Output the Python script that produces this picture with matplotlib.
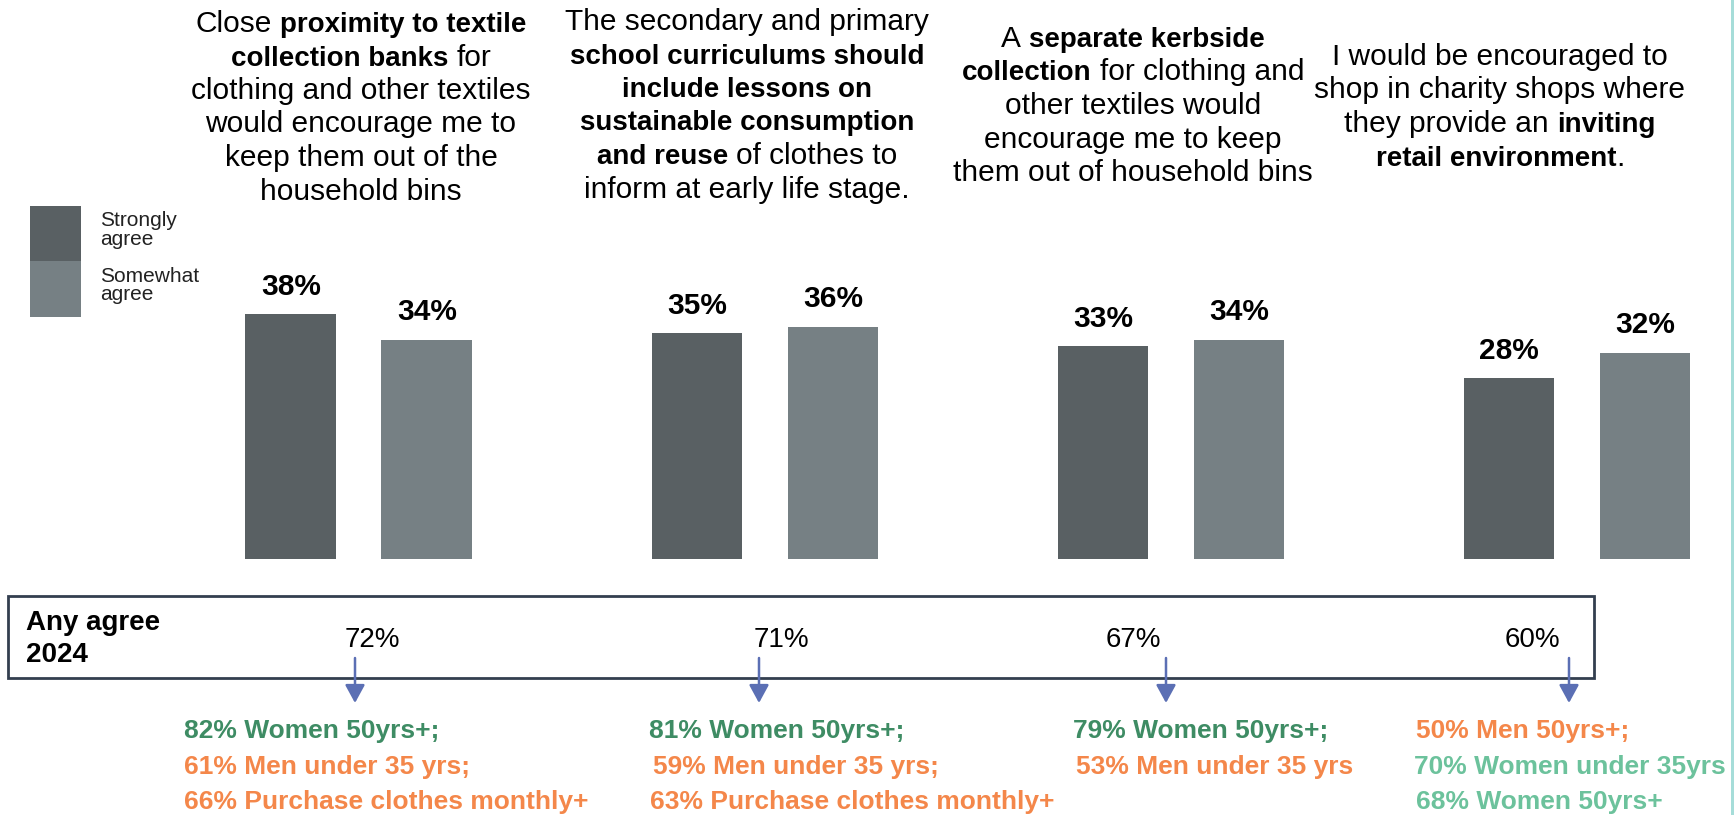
import matplotlib
matplotlib.use("Agg")
import matplotlib.pyplot as plt
from matplotlib.patches import Rectangle

# ---- data -------------------------------------------------------------
statements = ["Textile collection banks", "School curriculum lessons",
              "Separate kerbside collection", "Inviting charity shops"]
strongly_agree = [38, 35, 33, 28]
somewhat_agree = [34, 36, 34, 32]
any_agree_2024 = [72, 71, 67, 60]
series_names = [["Strongly", "agree"], ["Somewhat", "agree"]]

# statement headings: each line is a list of (text, bold)
headings = [
    [[("Close ", False), ("proximity to textile", True)],
     [("collection banks", True), (" for", False)],
     [("clothing and other textiles", False)],
     [("would encourage me to", False)],
     [("keep them out of the", False)],
     [("household bins", False)]],
    [[("The secondary and primary", False)],
     [("school curriculums should", True)],
     [("include lessons on", True)],
     [("sustainable consumption", True)],
     [("and reuse", True), (" of clothes to", False)],
     [("inform at early life stage.", False)]],
    [[("A ", False), ("separate kerbside", True)],
     [("collection", True), (" for clothing and", False)],
     [("other textiles would", False)],
     [("encourage me to keep", False)],
     [("them out of household bins", False)]],
    [[("I would be encouraged to", False)],
     [("shop in charity shops where", False)],
     [("they provide an ", False), ("inviting", True)],
     [("retail environment", True), (".", False)]],
]

# sub-group highlights under each statement
note_values = [[82, 61, 66], [81, 59, 63], [79, 53], [50, 70, 68]]
note_labels = [["Women 50yrs+;", "Men under 35 yrs;", "Purchase clothes monthly+"],
               ["Women 50yrs+;", "Men under 35 yrs;", "Purchase clothes monthly+"],
               ["Women 50yrs+;", "Men under 35 yrs"],
               ["Men 50yrs+;", "Women under 35yrs", "Women 50yrs+"]]
note_kinds = [["high", "low", "low"], ["high", "low", "low"],
              ["high", "low"], ["low", "mid", "mid"]]

# ---- styling -----------------------------------------------------------
W, H, DPI = 1734, 815, 100
FONT = ["Liberation Sans", "DejaVu Sans"]
DARK = "#596063"
LIGHT = "#768084"
ARROW = "#5b6fb4"
BOX = "#333f4f"
NOTE_COLORS = {"high": "#3e8c64", "low": "#f4874a", "mid": "#6cc29c"}
REG_SIZE, BOLD_SIZE = 21.5, 20

fig = plt.figure(figsize=(W / DPI, H / DPI), dpi=DPI)
fig.patch.set_facecolor("white")

# pixel-space overlay for annotations
ov = fig.add_axes([0, 0, 1, 1])
ov.set_xlim(0, W)
ov.set_ylim(H, 0)
ov.axis("off")

# ---- bars --------------------------------------------------------------
step = 406.1
c0 = 358.75
x_lo, x_hi = -0.5, 3.3
y_top = 40
px_per_pct = 6.43
base_px = 558.5
ax = fig.add_axes([(c0 + x_lo * step) / W, (H - base_px) / H,
                   (x_hi - x_lo) * step / W, y_top * px_per_pct / H])
ax.set_xlim(x_lo, x_hi)
ax.set_ylim(0, y_top)
ax.patch.set_alpha(0)
ax.axis("off")

idx = list(range(len(statements)))
bw = 0.223
off = 0.1675
b1 = ax.bar([i - off for i in idx], strongly_agree, width=bw, color=DARK)
b2 = ax.bar([i + off for i in idx], somewhat_agree, width=bw, color=LIGHT)
for cont, vals, pad in ((b1, strongly_agree, 9.5), (b2, somewhat_agree, 10)):
    ax.bar_label(cont, labels=[f"{v}%" for v in vals], padding=pad,
                 fontsize=21.5, fontweight="bold", family=FONT, color="black")

# ---- legend ------------------------------------------------------------
ov.add_patch(Rectangle((30, 206), 51, 55, color=DARK, lw=0))
ov.add_patch(Rectangle((30, 261), 51, 56, color=LIGHT, lw=0))
for (l1, l2), yc in zip(series_names, (221, 276)):
    ov.text(100, yc, l1, fontsize=15, family=FONT, color="#222222", va="center")
    ov.text(100, yc + 18.5, l2, fontsize=15, family=FONT, color="#222222", va="center")

# ---- headings with mixed weights ----------------------------------------
fig.canvas.draw()
renderer = fig.canvas.get_renderer()


def measure(s, **kw):
    t = ov.text(0, 0, s, **kw)
    w = t.get_window_extent(renderer).width
    t.remove()
    return w


def rich_line(cx, baseline, parts):
    pieces = []
    for text, bold in parts:
        kw = dict(fontsize=BOLD_SIZE if bold else REG_SIZE,
                  fontweight="bold" if bold else "normal", family=FONT)
        space = measure("x x", **kw) - measure("xx", **kw)
        core = text.strip()
        lead = (len(text) - len(text.lstrip())) * space
        trail = (len(text) - len(text.rstrip())) * space
        pieces.append((core, kw, lead, measure(core, **kw), trail))
    total = sum(p[2] + p[3] + p[4] for p in pieces)
    x = cx - total / 2
    for core, kw, lead, w, trail in pieces:
        x += lead
        ov.text(x, baseline, core, ha="left", va="baseline", color="black", **kw)
        x += w + trail


heading_cx = [361, 747, 1133, 1500]
heading_first = [22, 20, 37, 55]
line_gap = 33.5
for cx, y0, lines in zip(heading_cx, heading_first, headings):
    for k, parts in enumerate(lines):
        rich_line(cx, y0 + k * line_gap + 10, parts)

# ---- "Any agree" box ----------------------------------------------------
ov.add_patch(Rectangle((8, 596), 1586, 82, fill=False, ec=BOX, lw=2.0))
ov.text(26, 623, "Any agree", fontsize=20, fontweight="bold", family=FONT,
        va="center", ha="left", color="black")
ov.text(26, 655, "2024", fontsize=20, fontweight="bold", family=FONT,
        va="center", ha="left", color="black")

value_cx = [372, 781, 1133, 1532]
for cx, v in zip(value_cx, any_agree_2024):
    ov.text(cx, 640, f"{v}%", fontsize=20, family=FONT, ha="center",
            va="center", color="black")

arrow_x = [355, 759, 1166, 1569]
for x in arrow_x:
    ov.annotate("", xy=(x, 703), xytext=(x, 658),
                arrowprops=dict(arrowstyle="-|>,head_length=0.55,head_width=0.3",
                                color=ARROW, lw=1.8, mutation_scale=20,
                                shrinkA=0, shrinkB=0))

# ---- sub-group notes ----------------------------------------------------
note_x = [[184, 184, 184], [649, 653, 650], [1073, 1076], [1416, 1414, 1416]]
note_y = [731, 767, 802]
for xs, vals, labs, kinds in zip(note_x, note_values, note_labels, note_kinds):
    for k, (x, v, lab, kind) in enumerate(zip(xs, vals, labs, kinds)):
        ov.text(x, note_y[k], f"{v}% {lab}", fontsize=19, fontweight="bold",
                family=FONT, ha="left", va="center", color=NOTE_COLORS[kind])

# thin accent rule on the right edge
ov.add_patch(Rectangle((1731, 0), 3, H, color="#a6ddd9", lw=0))

fig.savefig("out.png", dpi=DPI, facecolor="white")
